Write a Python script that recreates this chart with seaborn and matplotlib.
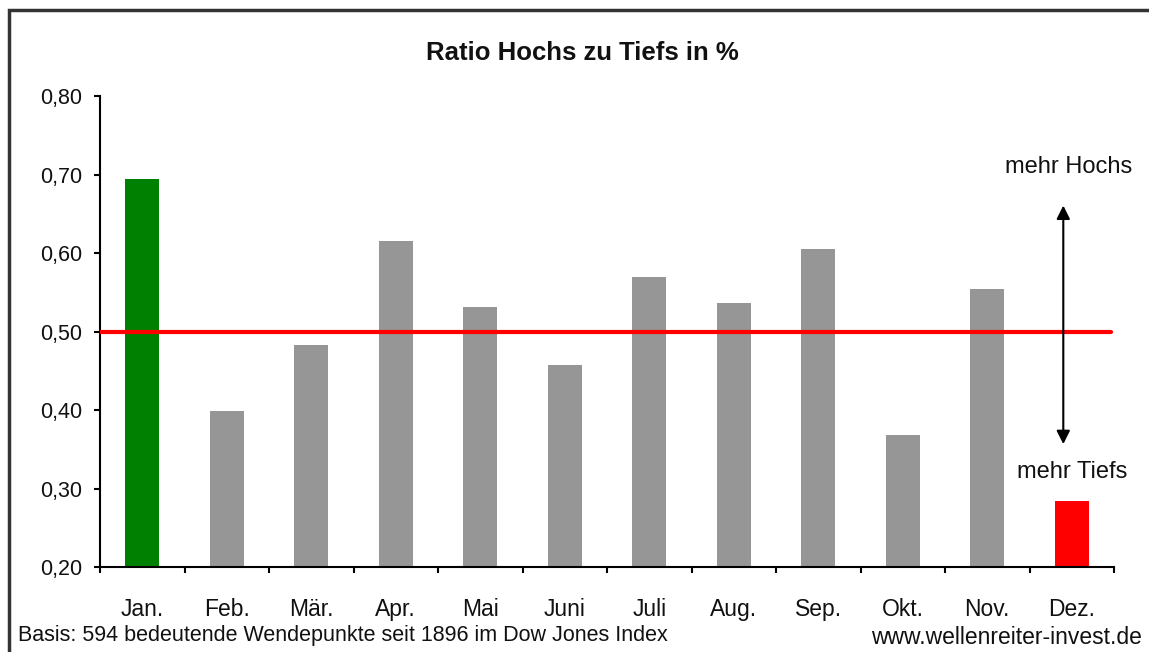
import numpy as np
import pandas as pd
import matplotlib
matplotlib.use("Agg")
import matplotlib.pyplot as plt
from matplotlib.patches import Rectangle
import seaborn as sns

months = ["Jan.", "Feb.", "Mär.", "Apr.", "Mai", "Juni", "Juli", "Aug.", "Sep.", "Okt.", "Nov.", "Dez."]
ratio = [0.694, 0.399, 0.483, 0.615, 0.531, 0.457, 0.569, 0.536, 0.605, 0.368, 0.554, 0.284]
bar_colors = ["#008000"] + ["#969696"] * 10 + ["#FF0000"]
y_ticks = [0.20, 0.30, 0.40, 0.50, 0.60, 0.70, 0.80]
threshold = 0.50

sns.set_theme(style="white")
plt.rcParams['font.family'] = ['Liberation Sans', 'DejaVu Sans']

fig = plt.figure(figsize=(11.49, 6.52), dpi=100)
ax = fig.add_axes([100/1149, 1-567/652, (1114-100)/1149, (567-96)/652])

df = pd.DataFrame({"month": months, "ratio": ratio})
sns.barplot(data=df, x="month", y="ratio", hue="month", palette=bar_colors,
            width=0.4, legend=False, ax=ax, saturation=1, edgecolor="none")

ax.set_ylim(0.20, 0.80)
ax.set_xlim(-0.5, 11.5)
ax.set_yticks(y_ticks)
ax.set_yticklabels([f"{v:.2f}".replace(".", ",") for v in y_ticks], fontsize=15.5, color="#111111")
ax.set_xticks(range(len(months)))
ax.set_xticklabels(months, fontsize=16.5, color="#111111")
ax.set_xticks(np.arange(-0.5, 12, 1), minor=True)
ax.tick_params(axis="x", which="major", length=0, pad=22)
ax.tick_params(axis="x", which="minor", length=4, width=1.5, color="black", direction="out", bottom=True)
ax.tick_params(axis="y", which="major", length=4, width=1.5, color="black", direction="out", left=True, pad=9)
ax.set_xlabel("")
ax.set_ylabel("")
for s in ["top", "right"]:
    ax.spines[s].set_visible(False)
for s in ["left", "bottom"]:
    ax.spines[s].set_color("black")
    ax.spines[s].set_linewidth(1.5)

ax.axhline(threshold, xmin=0, xmax=0.997, color="#FF0000", lw=3, zorder=3)

ax.annotate("", xy=(10.9, 0.664), xytext=(10.9, 0.353),
            arrowprops=dict(arrowstyle="<|-|>", color="black", lw=1.5, mutation_scale=20))
ax.text(10.96, 0.71, "mehr Hochs", ha="center", va="center", fontsize=17, color="#111111")
ax.text(11.0, 0.321, "mehr Tiefs", ha="center", va="center", fontsize=17, color="#111111")

fig.text(582/1149, 1-53/652, "Ratio Hochs zu Tiefs in %", ha="center", va="center",
         fontsize=18.5, fontweight="bold", color="#111111")
fig.text(18/1149, 1-636/652, "Basis: 594 bedeutende Wendepunkte seit 1896 im Dow Jones Index",
         ha="left", va="center", fontsize=15.5, color="#111111")
fig.text(1142/1149, 1-638/652, "www.wellenreiter-invest.de", ha="right", va="center",
         fontsize=16.5, color="#111111")

fig.patches.append(Rectangle((9/1149, -0.05), 1.2, 1-10/652 + 0.05, transform=fig.transFigure,
                             fill=False, edgecolor="#333333", lw=2.5, clip_on=False))

fig.savefig("out.png", dpi=100, facecolor="white")
